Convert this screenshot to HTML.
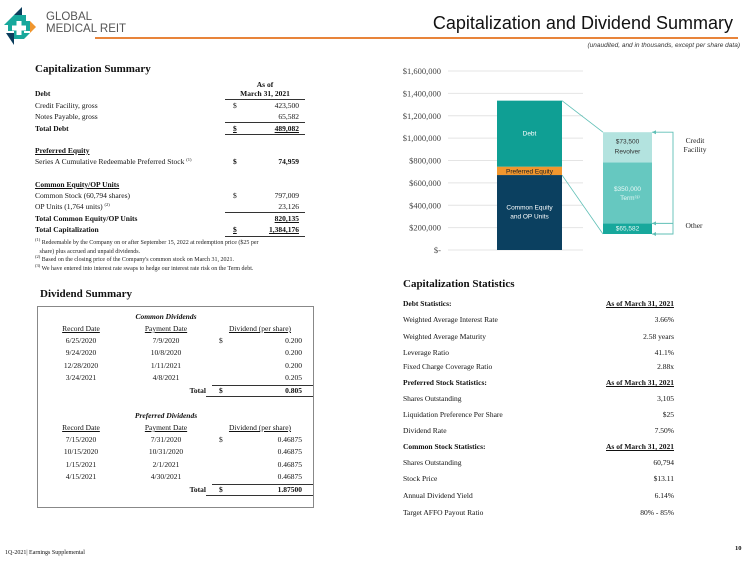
<!DOCTYPE html>
<html><head><meta charset="utf-8">
<style>
*{margin:0;padding:0;box-sizing:border-box}
body{width:750px;height:562px;background:#fff;position:relative;overflow:hidden;font-family:"Liberation Serif",serif;color:#111}
.a{position:absolute;white-space:nowrap}
.s{font-size:7.5px}
.b{font-weight:bold}
.r{text-align:right}
.c{text-align:center}
.u{text-decoration:underline}
.ln{position:absolute;height:0;border-top:1px solid #333}
.sp{font-size:4.5px;position:relative;top:-3px;line-height:0}
</style></head><body>
<!-- header -->
<svg class="a" style="left:2px;top:7px" width="36" height="40" viewBox="0 0 36 40">
<polygon points="12,8 20,0 20,10" fill="#0b3d5c"/>
<polygon points="2,18 12,8 12,18" fill="#17a89c"/>
<polygon points="12,8 24,8 24,14 12,14" fill="#17a89c"/>
<rect x="6" y="14" width="22" height="10" fill="#17a89c"/>
<rect x="12" y="10" width="10" height="22" fill="#17a89c"/>
<rect x="14.5" y="14" width="5" height="14" fill="#fff"/>
<rect x="10" y="18.5" width="14" height="5" fill="#fff"/>
<polygon points="28,14 34,20 28,26" fill="#f0962e"/>
<polygon points="4,26 12,26 12,38" fill="#0b3d5c"/>
<polygon points="22,32 28,26 22,26" fill="#17a89c"/>
</svg>
<div class="a" style="left:46px;top:12px;font-family:'Liberation Sans',sans-serif;font-size:11.5px;line-height:11.5px;color:#555">GLOBAL<br>MEDICAL REIT</div>
<div class="a" style="left:95px;top:37px;width:643px;height:1.5px;background:#e8843a"></div>
<div class="a" style="right:17px;top:13px;font-family:'Liberation Sans',sans-serif;font-size:18px;color:#111">Capitalization and Dividend Summary</div>
<div class="a" style="right:10px;top:42px;font-family:'Liberation Sans',sans-serif;font-size:6.5px;font-style:italic;color:#333">(unaudited, and in thousands, except per share data)</div>

<!-- capitalization summary -->
<div class="a b" style="left:35px;top:63px;font-size:11px">Capitalization Summary</div>
<div class="a s b c" style="left:225px;top:80px;width:80px;line-height:9px">As of<br>March 31, 2021</div>
<div class="ln" style="left:225px;top:99px;width:80px;border-top-width:1.3px"></div>
<div class="a s b" style="left:35px;top:89px">Debt</div>
<div class="a s" style="left:35px;top:101px">Credit Facility, gross</div><div class="a s" style="left:233px;top:101px">$</div><div class="a s r" style="left:250px;top:101px;width:49px">423,500</div>
<div class="a s" style="left:35px;top:112px">Notes Payable, gross</div><div class="a s r" style="left:250px;top:112px;width:49px">65,582</div>
<div class="ln" style="left:225px;top:122px;width:80px"></div>
<div class="a s b" style="left:35px;top:124px">Total Debt</div><div class="a s b u" style="left:233px;top:124px">$</div><div class="a s b r u" style="left:250px;top:124px;width:49px">489,082</div>
<div class="ln" style="left:225px;top:134px;width:80px;border-top-width:1.5px"></div>
<div class="a s b u" style="left:35px;top:146px">Preferred Equity</div>
<div class="a s" style="left:35px;top:157px">Series A Cumulative Redeemable Preferred Stock <span class="sp">(1)</span></div><div class="a s b" style="left:233px;top:157px">$</div><div class="a s b r" style="left:250px;top:157px;width:49px">74,959</div>
<div class="a s b u" style="left:35px;top:180px">Common Equity/OP Units</div>
<div class="a s" style="left:35px;top:191px">Common Stock (60,794 shares)</div><div class="a s" style="left:233px;top:191px">$</div><div class="a s r" style="left:250px;top:191px;width:49px">797,009</div>
<div class="a s" style="left:35px;top:202px">OP Units (1,764 units) <span class="sp">(2)</span></div><div class="a s r" style="left:250px;top:202px;width:49px">23,126</div>
<div class="ln" style="left:225px;top:212px;width:80px"></div>
<div class="a s b" style="left:35px;top:214px">Total Common Equity/OP Units</div><div class="a s b r u" style="left:250px;top:214px;width:49px">820,135</div>
<div class="a s b" style="left:35px;top:225px">Total Capitalization</div><div class="a s b u" style="left:233px;top:225px">$</div><div class="a s b r u" style="left:250px;top:225px;width:49px">1,384,176</div>
<div class="ln" style="left:225px;top:236px;width:80px;border-top-width:1.5px"></div>
<div class="a" style="left:35px;top:239px;font-size:6px;line-height:8.6px;color:#222"><span class="sp">(1)</span> Redeemable by the Company on or after September 15, 2022 at redemption price ($25 per<br>&nbsp;&nbsp;&nbsp;share) plus accrued and unpaid dividends.<br><span class="sp">(2)</span> Based on the closing price of the Company's common stock on March 31, 2021.<br><span class="sp">(3)</span> We have entered into interest rate swaps to hedge our interest rate risk on the Term debt.</div>

<!-- dividend summary -->
<div class="a b" style="left:40px;top:288px;font-size:11px">Dividend Summary</div>
<div class="a" style="left:37px;top:306px;width:277px;height:202px;border:1px solid #888"></div>
<div id="div"></div>

<!-- chart -->
<svg id="chart" class="a" style="left:0;top:0" width="750" height="280"></svg>

<!-- stats -->
<div class="a b" style="left:403px;top:278px;font-size:11px">Capitalization Statistics</div>
<div id="stats"></div>

<div class="a" style="left:5px;top:550px;font-size:6px">1Q-2021| Earnings Supplemental</div>
<div class="a b" style="left:735px;top:545px;font-size:6.5px">10</div>

<script>
// ---- chart data ----
const yTicks=[0,200000,400000,600000,800000,1000000,1200000,1400000,1600000];
const yTickLabels=["$-","$200,000","$400,000","$600,000","$800,000","$1,000,000","$1,200,000","$1,400,000","$1,600,000"];
const mainSegments=["Common Equity and OP Units","Preferred Equity","Debt"];
const mainValues=[670000,75000,590000];
const debtSegments=["Other","Term","Revolver"];
const debtValues=[95000,545000,270000];
const debtLabels=["$65,582","$350,000","$73,500"];
const NS="http://www.w3.org/2000/svg";
const svg=document.getElementById('chart');
const y0=250,y1=71,vmax=1600000;
const Y=v=>y0-(v/vmax)*(y0-y1);
function mk(t,a){const e=document.createElementNS(NS,t);for(const k in a)e.setAttribute(k,a[k]);svg.appendChild(e);return e;}
yTicks.forEach((t,i)=>{
  const g=mk('line',{x1:448,x2:583,y1:Y(t),y2:Y(t),stroke:'#e4e4e4','stroke-width':1});
  
  
  const l=mk('text',{x:441,y:Y(t)+3,'text-anchor':'end','font-size':'8.5','font-family':'Liberation Serif, serif',fill:'#444'});
  l.textContent=yTickLabels[i];
  
  
});
const mainColors=['#0b4060','#f0962e','#0f9f94'];
let acc=0;const bounds=[];
mainValues.forEach((v,i)=>{
  const top=Y(acc+v),bot=Y(acc);
  const r=mk('rect',{x:497,y:top,width:65,height:bot-top,fill:mainColors[i]});
  
  
  bounds.push([top,bot]);acc+=v;
});
function lbl(x,y,txt,col,sz){const t=mk('text',{x:x,y:y,'text-anchor':'middle','font-size':sz||'6.5','font-family':'Liberation Sans, sans-serif',fill:col});t.textContent=txt;return t;}
lbl(529.5,(bounds[0][0]+bounds[0][1])/2-3,'Common Equity','#fff');
lbl(529.5,(bounds[0][0]+bounds[0][1])/2+6,'and OP Units','#fff');
lbl(529.5,(bounds[1][0]+bounds[1][1])/2+2.5,'Preferred Equity','#222','6.5');
lbl(529.5,(bounds[2][0]+bounds[2][1])/2+2,'Debt','#fff');
// breakdown bar
const base=143000;const debtColors=['#17a89c','#66c8c0','#b3e3df'];
let acc2=base;const b2=[];
debtValues.forEach((v,i)=>{
  const top=Y(acc2+v),bot=Y(acc2);
  const r=mk('rect',{x:603,y:top,width:49,height:bot-top,fill:debtColors[i]});
  
  
  b2.push([top,bot]);acc2+=v;
});
lbl(627.5,(b2[0][0]+b2[0][1])/2+2,debtLabels[0],'#e8f8f6');
lbl(627.5,(b2[1][0]+b2[1][1])/2-2,debtLabels[1],'#e8f8f6');
lbl(630,(b2[1][0]+b2[1][1])/2+7,'Term⁽³⁾','#e8f8f6');
lbl(627.5,(b2[2][0]+b2[2][1])/2-4,debtLabels[2],'#333');
lbl(627.5,(b2[2][0]+b2[2][1])/2+6,'Revolver','#333');
// connectors
const c1=mk('line',{x1:562,y1:bounds[2][0],x2:603,y2:b2[2][0],stroke:'#5fbfb6','stroke-width':0.8});

const c2=mk('line',{x1:562,y1:bounds[1][1],x2:603,y2:b2[0][1],stroke:'#5fbfb6','stroke-width':0.8});

// bracket
const br=mk('polyline',{points:`652,${b2[2][0]} 673,${b2[2][0]} 673,${b2[0][1]} 652,${b2[0][1]}`,fill:'none',stroke:'#5fbfb6','stroke-width':0.9});

const mid=mk('line',{x1:652,y1:b2[0][0],x2:673,y2:b2[0][0],stroke:'#5fbfb6','stroke-width':0.9});

[b2[2][0],b2[0][0],b2[0][1]].forEach(yy=>{
  const p=mk('polygon',{points:`652,${yy} 656,${yy-2} 656,${yy+2}`,fill:'#5fbfb6'});
  
});
function side(x,y,t){const e=mk('text',{x:x,y:y,'text-anchor':'middle','font-size':'7.5','font-family':'Liberation Serif, serif',fill:'#222'});e.textContent=t;}
side(695,143,'Credit');side(695,152,'Facility');side(694,228,'Other');

// ---- dividend tables ----
const D=document.getElementById('div');
function add(html,st,name){const e=document.createElement('div');e.className='a s';e.setAttribute('style',st);e.innerHTML=html;


D.appendChild(e);}
function section(top,title,rows,total){
  add('<b><i>'+title+'</i></b>',`left:126px;top:${top}px;width:80px;text-align:center`,'dividend-section-title');
  add('<u>Record Date</u>',`left:41px;top:${top+12}px;width:80px;text-align:center`,'col-header');
  add('<u>Payment Date</u>',`left:126px;top:${top+12}px;width:80px;text-align:center`,'col-header');
  add('<u>Dividend (per share)</u>',`left:220px;top:${top+12}px;width:80px;text-align:center`,'col-header');
  rows.forEach((r,i)=>{const t=top+24+i*12.3;
    add(r[0],`left:41px;top:${t}px;width:80px;text-align:center`,'record-date');
    add(r[1],`left:126px;top:${t}px;width:80px;text-align:center`,'payment-date');
    if(i==0)add('$',`left:219px;top:${t}px`,'currency');
    add(r[2],`left:240px;top:${t}px;width:62px;text-align:right`,'dividend-value');
  });
  const tt=top+24+4*12.3+0.5;
  const l1=document.createElement('div');l1.className='ln';l1.style.cssText=`left:212px;top:${tt-1}px;width:101px`;D.appendChild(l1);
  add('<b>Total</b>',`left:170px;top:${tt}px;width:36px;text-align:right`,'total-label');
  add('<b>$</b>',`left:219px;top:${tt}px`,'currency');
  add('<b>'+total+'</b>',`left:240px;top:${tt}px;width:62px;text-align:right`,'total-value');
  const l2=document.createElement('div');l2.className='ln';l2.style.cssText=`left:206px;top:${tt+10}px;width:107px;border-top-width:1.5px`;D.appendChild(l2);
}
section(312,'Common Dividends',[["6/25/2020","7/9/2020","0.200"],["9/24/2020","10/8/2020","0.200"],["12/28/2020","1/11/2021","0.200"],["3/24/2021","4/8/2021","0.205"]],'0.805');
section(411,'Preferred Dividends',[["7/15/2020","7/31/2020","0.46875"],["10/15/2020","10/31/2020","0.46875"],["1/15/2021","2/1/2021","0.46875"],["4/15/2021","4/30/2021","0.46875"]],'1.87500');

// ---- stats ----
const S=document.getElementById('stats');
const statRows=[["Debt Statistics:","As of March 31, 2021",1],["Weighted Average Interest Rate","3.66%"],["Weighted Average Maturity","2.58 years"],["Leverage Ratio","41.1%"],["Fixed Charge Coverage Ratio","2.88x"],["Preferred Stock Statistics:","As of March 31, 2021",1],["Shares Outstanding","3,105"],["Liquidation Preference Per Share","$25"],["Dividend Rate","7.50%"],["Common Stock Statistics:","As of March 31, 2021",1],["Shares Outstanding","60,794"],["Stock Price","$13.11"],["Annual Dividend Yield","6.14%"],["Target AFFO Payout Ratio","80% - 85%"]];
const statY=[299,315,332,348,362,378,394,410,426,442,458,474,491,508];
statRows.forEach((r,i)=>{
  const a=document.createElement('div');a.className='a s'+(r[2]?' b':'');a.style.cssText=`left:403px;top:${statY[i]}px`;a.textContent=r[0];
  
  
  S.appendChild(a);
  const b=document.createElement('div');b.className='a s r'+(r[2]?' b u':'');b.style.cssText=`left:574px;top:${statY[i]}px;width:100px`;b.textContent=r[1];
  
  
  S.appendChild(b);
});
</script>
</body></html>
